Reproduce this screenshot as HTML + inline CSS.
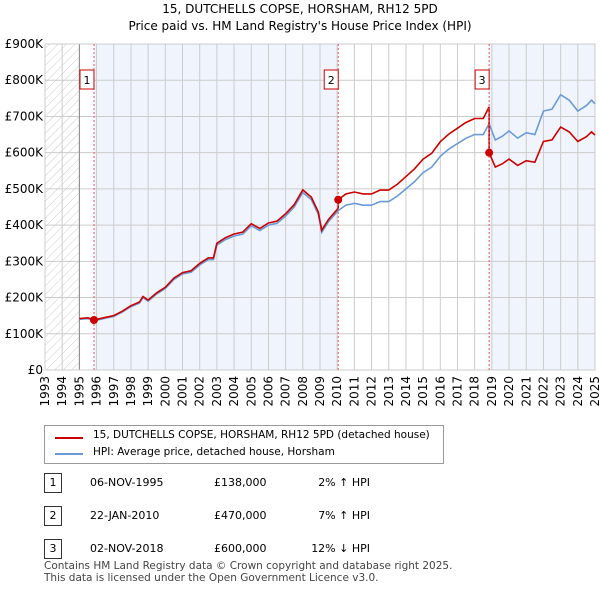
<!DOCTYPE html>
<html><head><meta charset="utf-8"><style>
body{margin:0;background:#fff;font-family:"DejaVu Sans","Liberation Sans",sans-serif;}
#wrap{position:relative;width:600px;height:590px;overflow:hidden}
.t{position:absolute;font-size:12px;color:#000;white-space:nowrap}
</style></head><body>
<div id="wrap">
<svg id="chart" width="600" height="420" style="position:absolute;left:0;top:0"></svg>
<div style="position:absolute;left:44px;top:425px;width:398px;height:37px;border:1px solid #999;background:#fff">
 <div style="position:absolute;left:10px;top:11px;width:28px;height:2px;background:#cc0000"></div>
 <div class="t" style="left:48px;top:3px;font-size:10.5px">15, DUTCHELLS COPSE, HORSHAM, RH12 5PD (detached house)</div>
 <div style="position:absolute;left:10px;top:27px;width:28px;height:2px;background:#6a9bd8"></div>
 <div class="t" style="left:48px;top:20px;font-size:10.5px">HPI: Average price, detached house, Horsham</div>
</div>
<div id="rows"></div>
<div class="t" style="left:44px;top:560px;font-size:10.5px;color:#444;line-height:12px">Contains HM Land Registry data © Crown copyright and database right 2025.<br>This data is licensed under the Open Government Licence v3.0.</div>
</div>
<script>
const hpiYears=[1995.0,1995.5,1995.85,1996.5,1997,1997.5,1998,1998.5,1998.7,1999,1999.5,2000,2000.5,2001,2001.5,2002,2002.5,2002.8,2003,2003.5,2004,2004.5,2005,2005.5,2006,2006.5,2007,2007.5,2008,2008.5,2008.9,2009.1,2009.5,2010.06,2010.5,2011,2011.5,2012,2012.5,2013,2013.5,2014,2014.5,2015,2015.5,2016,2016.5,2017,2017.5,2018,2018.5,2018.84,2019.2,2019.6,2020,2020.5,2021,2021.5,2022,2022.5,2023,2023.5,2024,2024.5,2024.8,2025];
const hpiValues=[140,142,136,143,148,160,175,185,200,190,210,225,250,265,270,290,305,305,345,360,370,375,398,385,400,405,425,450,490,470,430,380,410,440,455,460,455,455,465,465,480,500,520,545,560,590,610,625,640,650,650,680,635,645,660,640,655,650,715,720,760,745,715,730,745,735];
const saleYears=[1995.85,2010.06,2018.84];
const salePrices=[138000,470000,600000];
const saleDates=["06-NOV-1995","22-JAN-2010","02-NOV-2018"];
const saleHpi=["2% ↑ HPI","7% ↑ HPI","12% ↓ HPI"];
const yTicks=[0,100,200,300,400,500,600,700,800,900];
const yLabels=["£0","£100K","£200K","£300K","£400K","£500K","£600K","£700K","£800K","£900K"];
const xTicks=[1993,1994,1995,1996,1997,1998,1999,2000,2001,2002,2003,2004,2005,2006,2007,2008,2009,2010,2011,2012,2013,2014,2015,2016,2017,2018,2019,2020,2021,2022,2023,2024,2025];
const L=45,R=595,T=44,B=370;
const FF='DejaVu Sans, sans-serif';
const X=y=>L+(y-1993)/32*(R-L);
const Y=v=>B-v/900*(B-T);
const s=document.getElementById('chart');const NS='http://www.w3.org/2000/svg';
function el(t,a,p){const e=document.createElementNS(NS,t);for(const k in a)e.setAttribute(k,a[k]);(p||s).appendChild(e);return e;}
const defs=el('defs',{});const pat=el('pattern',{id:'h',width:6,height:6,patternUnits:'userSpaceOnUse',patternTransform:'rotate(45)'},defs);el('line',{x1:0,y1:0,x2:0,y2:6,stroke:'#ccc','stroke-width':1},pat);
let r=el('rect',{x:L,y:T,width:X(1995)-L,height:B-T,fill:'url(#h)'});
r=el('rect',{x:X(saleYears[0]),y:T,width:X(saleYears[1])-X(saleYears[0]),height:B-T,fill:'#f0f4fc'});
r=el('rect',{x:X(saleYears[2]),y:T,width:R-X(saleYears[2]),height:B-T,fill:'#f0f4fc'});
xTicks.forEach((y,i)=>{let g=el('line',{x1:X(y),x2:X(y),y1:T,y2:B,stroke:'#ccc'});
 let t=el('text',{x:0,y:0,transform:`translate(${X(y)+4},${B+6}) rotate(-90)`,'text-anchor':'end','font-size':12,'font-family':FF});t.textContent=y;});
yTicks.forEach((v,i)=>{let g=el('line',{x1:L,x2:R,y1:Y(v),y2:Y(v),stroke:'#ccc'});
 let t=el('text',{x:L-2,y:Y(v)+4,'text-anchor':'end','font-size':12,'font-family':FF});t.textContent=yLabels[i];});
let a=el('line',{x1:X(1995),x2:X(1995),y1:T,y2:B,stroke:'#888'});
a=el('rect',{x:L,y:T,width:R-L,height:B-T,fill:'none',stroke:'#ccc'});
function interp(t){for(let i=1;i<hpiYears.length;i++)if(t<=hpiYears[i]){const f=(t-hpiYears[i-1])/(hpiYears[i]-hpiYears[i-1]);return hpiValues[i-1]+f*(hpiValues[i]-hpiValues[i-1]);}return hpiValues[hpiValues.length-1];}
let hp=hpiYears.map((y,i)=>X(y)+','+Y(hpiValues[i])).join(' ');
let hl=el('polyline',{points:hp,fill:'none',stroke:'#6a9bd8','stroke-width':1.6});
let pts=[];
hpiYears.forEach((y,i)=>{let k=0;for(let j=0;j<saleYears.length;j++)if(y>=saleYears[j])k=j;
 if(i>0){for(let j=1;j<saleYears.length;j++){if(hpiYears[i-1]<saleYears[j]&&y>=saleYears[j]){const hv=interp(saleYears[j]);pts.push([saleYears[j],hv*salePrices[j-1]/1000/interp(saleYears[j-1])]);pts.push([saleYears[j],salePrices[j]/1000]);}}}
 const ratio=salePrices[k]/1000/interp(saleYears[k]);pts.push([y,hpiValues[i]*ratio]);});
let rl=el('polyline',{points:pts.map(p=>X(p[0])+','+Y(p[1])).join(' '),fill:'none',stroke:'#cc0000','stroke-width':1.6});
saleYears.forEach((y,i)=>{let l=el('line',{x1:X(y),x2:X(y),y1:T,y2:B,stroke:'#ee5555','stroke-dasharray':'2,2'});
 let c=el('circle',{cx:X(y),cy:Y(salePrices[i]/1000),r:4,fill:'#cc0000'});
 let b=el('rect',{x:X(y)-14,y:70,width:14,height:19,fill:'#fff',stroke:'#cc0000'});
 let t=el('text',{x:X(y)-7,y:84,'text-anchor':'middle','font-size':11,'font-family':FF});t.textContent=i+1;});
let tt=el('text',{x:300,y:13,'text-anchor':'middle','font-size':12,'font-family':FF});tt.textContent='15, DUTCHELLS COPSE, HORSHAM, RH12 5PD';
tt=el('text',{x:300,y:30,'text-anchor':'middle','font-size':12,'font-family':FF});tt.textContent="Price paid vs. HM Land Registry's House Price Index (HPI)";
const rows=document.getElementById('rows');
saleYears.forEach((y,i)=>{const top=473+i*33;const d=document.createElement('div');
 
 
 d.innerHTML=`<div style="position:absolute;left:44px;top:${top}px;width:16px;height:18px;border:1px solid #333;font-size:11px;text-align:center;line-height:18px">${i+1}</div><div class="t" style="left:90px;top:${top+3}px;font-size:11px">${saleDates[i]}</div><div class="t" style="left:214px;top:${top+3}px;font-size:11px">£${salePrices[i].toLocaleString('en-GB')}</div><div class="t" style="left:300px;top:${top+3}px;font-size:11px;width:70px;text-align:right">${saleHpi[i]}</div>`;
 rows.appendChild(d);});
</script>
</body></html>
